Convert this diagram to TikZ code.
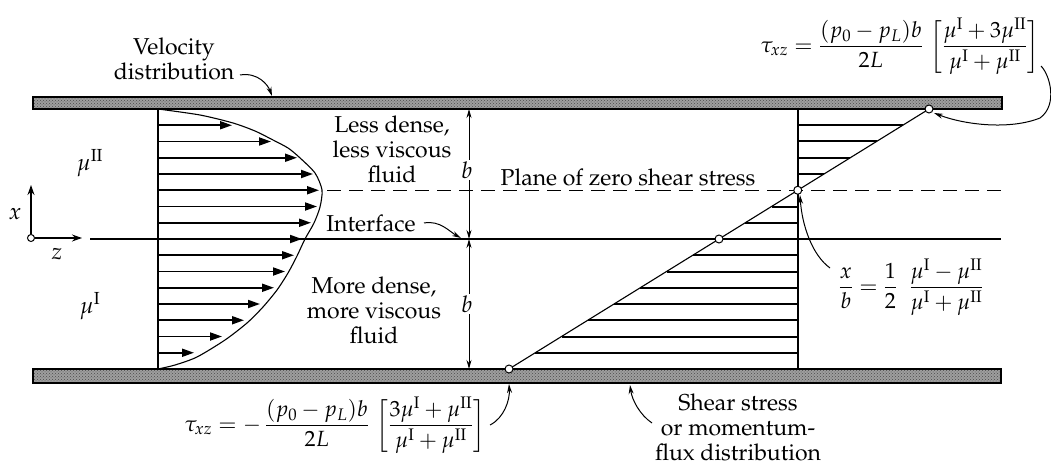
\documentclass[tikz,border=0pt]{standalone}
\usepackage[T1]{fontenc}
\usepackage{amsmath}
\usepackage{mathpazo}
\usetikzlibrary{arrows.meta,patterns}
\newcommand\mydelimset{\delimiterfactor=780\relax\delimitershortfall=10pt\relax}
\begin{document}
\begin{tikzpicture}[x=1pt,y=-1pt,line width=1.1pt,
  txt/.style={font=\fontsize{23}{25}\selectfont, inner sep=0pt, align=center},
  frm/.style={font=\fontsize{22}{24}\selectfont, inner sep=0pt},
  wall/.style={fill=black!38, draw=black, line width=1.2pt},
  wallspeck/.style={pattern=crosshatch dots, pattern color=black!70},
  velarrow/.style={line width=1.8pt, -{Triangle[length=12pt,width=8pt]}},
  hatch/.style={line width=2pt},
  dimline/.style={line width=1pt, {Stealth[length=9pt,width=5pt]}-{Stealth[length=9pt,width=5pt]}},
  lead/.style={line width=1pt, -{Stealth[length=9pt,width=5pt]}},
  axisarrow/.style={line width=1.2pt, -{Stealth[length=10pt,width=7pt]}},
  dot/.style={circle, draw=black, fill=white, line width=1pt, minimum size=8pt, inner sep=0pt},
]
\useasboundingbox (0,0) rectangle (1051,465);

% walls
\draw[wall] (33,97) rectangle (1002,109);
\fill[wallspeck] (33,97) rectangle (1002,109);
\draw[line width=1.2pt] (33,97) rectangle (1002,109);
\draw[wall] (33,369) rectangle (1001,383);
\fill[wallspeck] (33,369) rectangle (1001,383);
\draw[line width=1.2pt] (33,369) rectangle (1001,383);

% interface and zero-shear plane
\coordinate (ifL) at (90,239);
\coordinate (ifR) at (1001,239);
\draw (ifL) -- (ifR);
\draw[dash pattern=on 14pt off 8pt] (327,190.25) -- (1001,190.25);

% velocity profile
\draw (158,109) -- (158,369);
\draw plot[smooth, tension=0.45] coordinates {(158,109) (200,115) (233,123) (255,131) (273,140) (288,148) (299,157) (315,173) (322,190) (320,207) (314,223) (305,239) (297,256) (288,273) (277,290) (263,307) (247,323) (225,340) (197,357) (175,365) (158,369)};
\foreach \k/\tx in {1/232,2/271,3/297,4/313,5/319,6/317,7/311,8/302,9/294,10/285,11/274,12/260,13/244,14/222,15/194}
  \draw[velarrow] (158,{109+16.25*\k}) -- (\tx,{109+16.25*\k});

% shear stress distribution
\coordinate (sb) at (509,369);
\coordinate (st) at (929,109);
\draw (798,109) -- (798,369);
\foreach \k in {1,2,3,4,6,7,9,10,11,12,13,14,15}{
  \pgfmathsetmacro{\yy}{109+16.25*\k}
  \pgfmathsetmacro{\xx}{509+1.61538*(369-\yy)}
  \draw[hatch] (798,\yy) -- (\xx,\yy);
}
\draw (sb) -- (st);
\node[dot] (p1) at (sb) {};
\node[dot] (p2) at (719,239) {};
\node[dot] (p3) at (797.75,190.25) {};
\node[dot] (p4) at (st) {};

% axes
\node[dot, minimum size=7pt] (org) at (31,238) {};
\coordinate (xend) at (31,185);
\coordinate (zend) at (82,238);
\draw[axisarrow] (org) -- (xend);
\draw[axisarrow] (org) -- (zend);
\node[txt] (xlab) at (15,214) {$x$};
\node[txt] (zlab) at (57,254) {$z$};

% dimension b
\coordinate (d1) at (469,109);
\coordinate (d2) at (469,239);
\coordinate (d3) at (469,369);
\draw[dimline] (d1) -- (d2);
\draw[dimline] (d2) -- (d3);
\node[txt, fill=white, inner ysep=2pt] (b1) at (467,170) {$b$};
\node[txt, fill=white, inner ysep=2pt] (b2) at (467,304) {$b$};

% labels
\node[txt] (mu2) at (90,163) {$\mu^{\mathrm{II}}$};
\node[txt] (mu1) at (90,306) {$\mu^{\mathrm{I}}$};
\node[txt] (vlab) at (174,59) {Velocity\\distribution};
\node[txt] (upper) at (392,149) {Less dense,\\less viscous\\fluid};
\node[txt] (lower) at (374,310) {More dense,\\more viscous\\fluid};
\node[txt] (iface) at (371,223) {Interface};
\node[txt] (plane) at (628,177) {Plane of zero shear stress};
\node[txt] (slab) at (738,427) {Shear stress\\or momentum-\\flux distribution};

\node[frm] (ftop) at (900,46) {$\mydelimset\displaystyle \tau_{xz} = \frac{(p_0 - p_L)b}{2L}\,\left[\frac{\mu^{\mathrm{I}} + 3\mu^{\mathrm{II}}}{\mu^{\mathrm{I}} + \mu^{\mathrm{II}}}\right]$};
\node[frm] (fbot) at (335,425) {$\mydelimset\displaystyle \tau_{xz} = -\,\frac{(p_0 - p_L)b}{2L}\,\left[\frac{3\mu^{\mathrm{I}} + \mu^{\mathrm{II}}}{\mu^{\mathrm{I}} + \mu^{\mathrm{II}}}\right]$};
\node[frm] (fright) at (911,287) {$\displaystyle \frac{x}{b} = \frac{1}{2}\;\;\frac{\mu^{\mathrm{I}} - \mu^{\mathrm{II}}}{\mu^{\mathrm{I}} + \mu^{\mathrm{II}}}$};

% leader arrows
\coordinate (vA) at (240,75);
\coordinate (vB) at (272,96);
\draw[lead] (vA) .. controls (258,72) and (268,85) .. (vB);
\coordinate (iA) at (424,223);
\coordinate (iB) at (461,238);
\draw[lead] (iA) .. controls (440,220) and (450,232) .. (iB);
\coordinate (bA) at (490,425);
\coordinate (bB) at (509,384);
\draw[lead] (bA) .. controls (504,418) and (510,400) .. (bB);
\coordinate (sA) at (652,423);
\coordinate (sB) at (630,385);
\draw[lead] (sA) .. controls (640,415) and (632,400) .. (sB);
\coordinate (rA) at (830,268);
\coordinate (rB) at (800,195);
\draw[lead] (rA) .. controls (812,255) and (802,225) .. (rB);
\coordinate (tA) at (1041,66);
\coordinate (tM) at (1040,118);
\coordinate (tB) at (934,113);
\draw[lead] (tA) .. controls (1050,75) and (1058,105) .. (tM) .. controls (1010,130) and (965,125) .. (tB);
\end{tikzpicture}
\end{document}
